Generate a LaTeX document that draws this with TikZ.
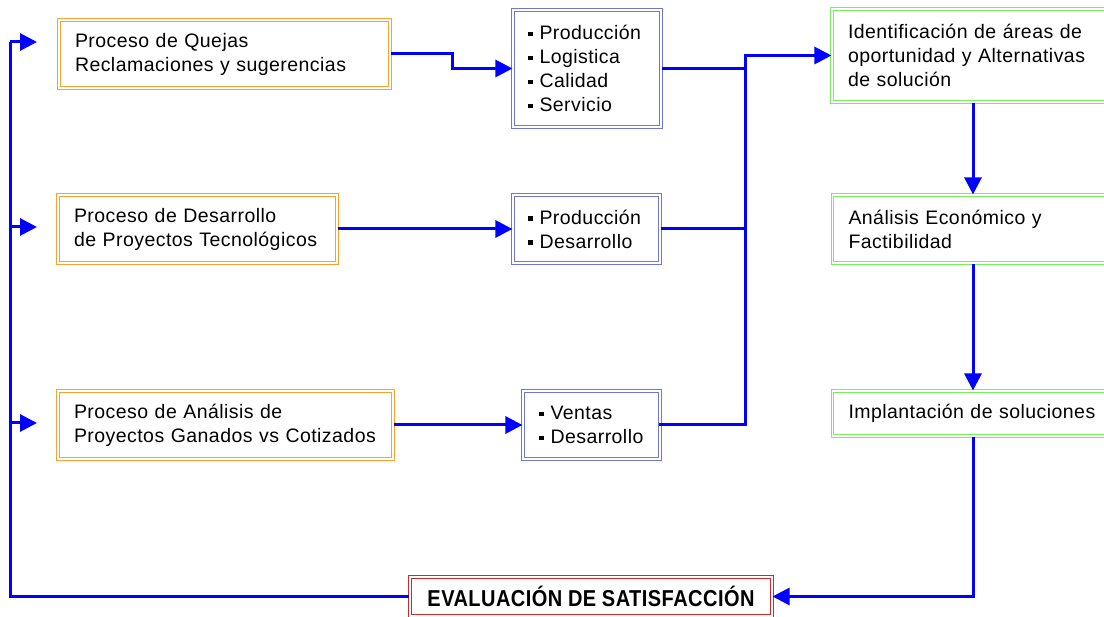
\documentclass[tikz,border=0pt]{standalone}
\usepackage{fontspec}
\setmainfont{Liberation Sans}[LetterSpace=2.3]
\usetikzlibrary{arrows.meta}
\definecolor{borange}{RGB}{255,160,40}
\definecolor{bblue}{RGB}{110,120,210}
\definecolor{bgreen}{RGB}{120,240,90}
\definecolor{bred}{RGB}{210,40,40}
\definecolor{lineblue}{RGB}{0,0,255}
\newcommand{\bsq}{\rule[3.5pt]{4.5pt}{4.5pt}\hspace{7pt}}
\begin{document}
\begin{tikzpicture}[x=1pt,y=-1pt,
  box/.style={rectangle, double, line width=1.1pt, double distance=1.6pt,
    align=left, inner ysep=0pt, fill=white,
    font=\fontsize{19.5}{24}\selectfont},
  obox/.style={box, draw=borange, inner xsep=16pt},
  pbox/.style={box, draw=bblue, inner xsep=15pt},
  gbox/.style={box, draw=bgreen, inner xsep=16pt},
  rbox/.style={box, draw=bred, inner xsep=8pt, align=center},
  conn/.style={draw=lineblue, line width=3pt},
  arr/.style={conn, -{Triangle[length=17pt,width=17pt]}},
]
\useasboundingbox (0,0) rectangle (1104,617);
\clip (0,0) rectangle (1104,617);
\fill[white] (0,0) rectangle (1104,617);

% left column (orange)
\node[obox, text width=299pt, minimum height=68pt] (q1) at (224.5,54)
  {Proceso de Quejas\\Reclamaciones y sugerencias};
\node[obox, text width=247pt, minimum height=68pt] (q2) at (197.5,229)
  {Proceso de Desarrollo\\de Proyectos Tecnológicos};
\node[obox, text width=303pt, minimum height=68pt] (q3) at (225.5,425)
  {Proceso de Análisis de\\Proyectos Ganados vs Cotizados};

% middle column (blue)
\node[pbox, text width=118pt, minimum height=117pt] (p1) at (587,68.5)
  {\bsq Producción\\\bsq Logistica\\\bsq Calidad\\\bsq Servicio};
\node[pbox, text width=117pt, minimum height=68pt] (p2) at (586.5,229)
  {\bsq Producción\\\bsq Desarrollo};
\node[pbox, text width=105pt, minimum height=68pt, inner xsep=16pt] (p3) at (591.5,425)
  {\bsq Ventas\\\bsq Desarrollo};

% right column (green), cut by the right edge
\node[gbox, text width=268pt, minimum height=93pt] (g1) at (982,55.5)
  {Identificación de áreas de\\oportunidad y Alternativas\\de solución};
\node[gbox, text width=268pt, minimum height=68pt] (g2) at (982.5,229)
  {Análisis Económico y\\Factibilidad};
\node[gbox, text width=268pt, minimum height=45pt] (g3) at (982.5,413.5)
  {Implantación de soluciones};

% bottom (red)
\node[rbox, minimum width=362pt, minimum height=39pt, text width=346pt] (r) at (591,596.5)
  {\fontsize{23}{26}\selectfont\bfseries\scalebox{0.87}[1]{EVALUACIÓN DE SATISFACCIÓN}};

% helper coordinates
\coordinate (jt) at (745,55.5);
\coordinate (vx) at (973,0);
\coordinate (lx) at (10,0);
\coordinate (a1) at (37,42);
\coordinate (a2) at (37,227);
\coordinate (a3) at (37,423);

% left to middle
\draw[arr] (q1.east) -- ++(62,0) |- (p1.west);
\draw[arr] (q2.east) -- (p2.west);
\draw[arr] (q3.east) -- (p3.west);

% middle to junction to green
\draw[conn] (p1.east) -- (p1.east -| jt);
\draw[conn] (p2.east) -- (p2.east -| jt);
\draw[arr, line cap=rect] (p3.east) -| (jt) -- (g1.west);

% green column
\draw[arr] (g1.south -| vx) -- (g2.north -| vx);
\draw[arr] (g2.south -| vx) -- (g3.north -| vx);
\draw[arr] (g3.south -| vx) |- (r.east);

% feedback loop
\draw[conn] (r.west) -| (lx |- a1);
\draw[arr] (lx |- a1) -- (a1);
\draw[arr] (lx |- a2) -- (a2);
\draw[arr] (lx |- a3) -- (a3);
\end{tikzpicture}
\end{document}
